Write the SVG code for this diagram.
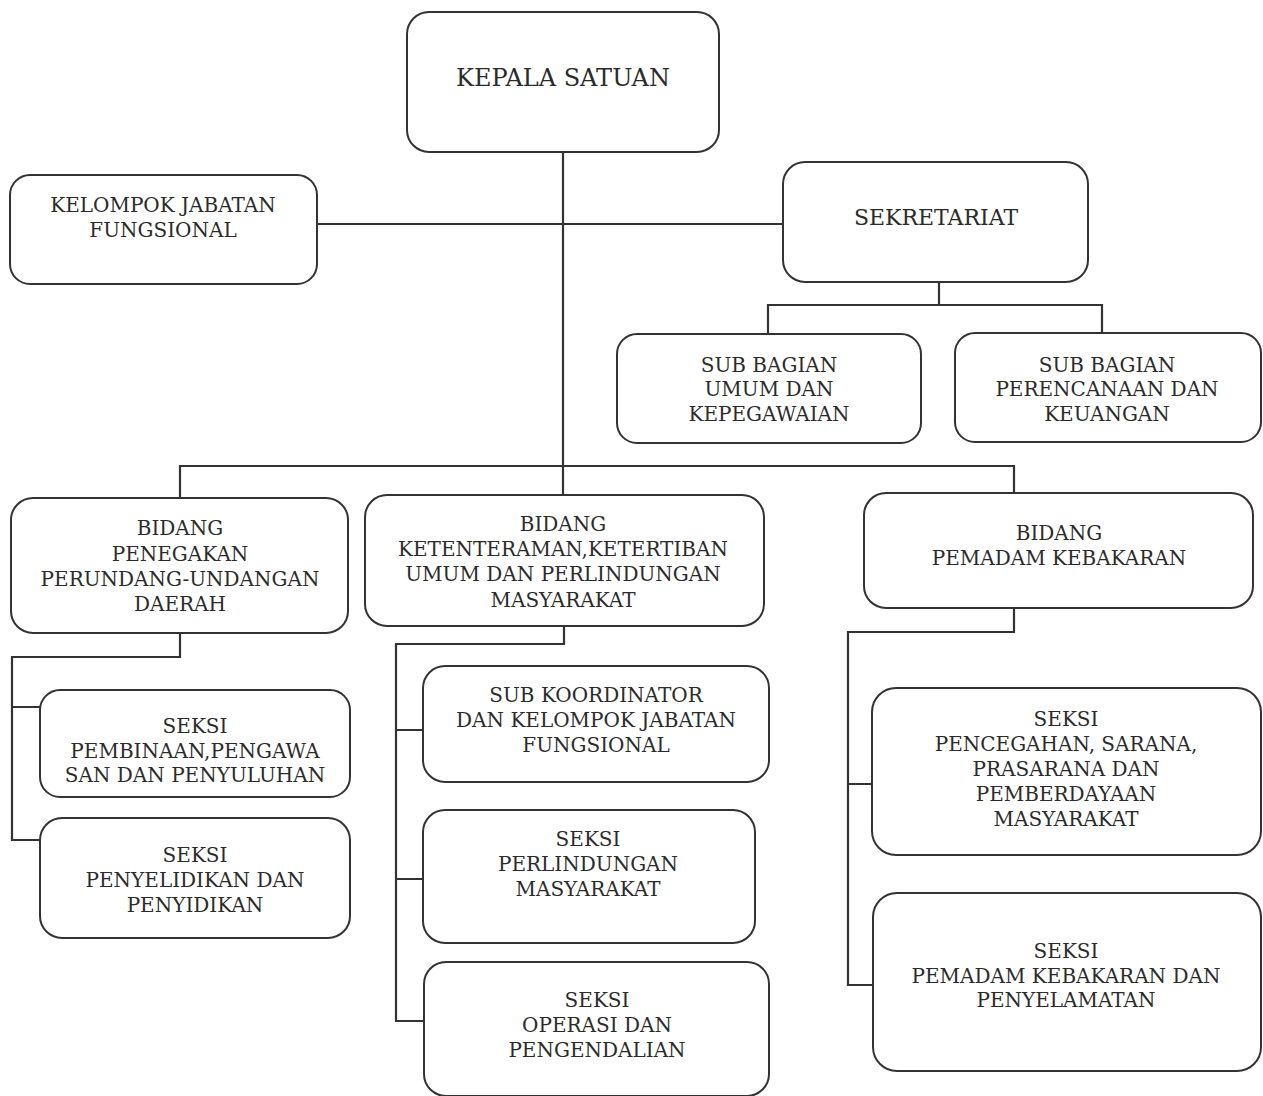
<svg xmlns="http://www.w3.org/2000/svg" width="1263" height="1096" viewBox="0 0 1263 1096">
<style>
.box{fill:#fff;stroke:#333;stroke-width:2}
.ln{fill:none;stroke:#333;stroke-width:2.2;stroke-linecap:square}
text{font-family:"DejaVu Serif","Liberation Serif",serif;font-size:20px;fill:#2b2b2b;text-anchor:middle}
.t24{font-size:24px}
.t22{font-size:22px}
</style>
<rect width="1263" height="1096" fill="#fff"/>
<g id="connectors">
<path class="ln" d="M563 152V495"/>
<path class="ln" d="M317 224H783"/>
<path class="ln" d="M939 282V305M768 305H1102M768 305V334M1102 305V333"/>
<path class="ln" d="M180 466H1014M180 466V498M1014 466V493"/>
<path class="ln" d="M180 633V657H12V840H40M12 707H40"/>
<path class="ln" d="M564 626V644H396V1021H424M396 730H423M396 879H423"/>
<path class="ln" d="M1014 608V632H848V985H873M848 784H872"/>
</g>
<g id="kepala"><rect class="box" x="407" y="12" width="312" height="140" rx="22"/><text class="t24" x="563" y="86">KEPALA SATUAN</text></g>
<g id="kelompok"><rect class="box" x="10" y="175" width="307" height="109" rx="20"/><text x="163" y="212">KELOMPOK JABATAN</text><text x="163" y="237">FUNGSIONAL</text></g>
<g id="sekretariat"><rect class="box" x="783" y="162" width="305" height="120" rx="22"/><text class="t22" x="936" y="225">SEKRETARIAT</text></g>
<g id="subumum"><rect class="box" x="617" y="334" width="304" height="109" rx="20"/><text x="769" y="372">SUB BAGIAN</text><text x="769" y="396">UMUM DAN</text><text x="769" y="421">KEPEGAWAIAN</text></g>
<g id="subrencana"><rect class="box" x="955" y="333" width="306" height="109" rx="20"/><text x="1107" y="372">SUB BAGIAN</text><text x="1107" y="396">PERENCANAAN DAN</text><text x="1107" y="421">KEUANGAN</text></g>
<g id="bidang1"><rect class="box" x="11" y="498" width="337" height="135" rx="22"/><text x="180" y="535">BIDANG</text><text x="180" y="561">PENEGAKAN</text><text x="180" y="586">PERUNDANG-UNDANGAN</text><text x="180" y="611">DAERAH</text></g>
<g id="bidang2"><rect class="box" x="365" y="495" width="399" height="131" rx="22"/><text x="563" y="531">BIDANG</text><text x="563" y="556">KETENTERAMAN,KETERTIBAN</text><text x="563" y="581">UMUM DAN PERLINDUNGAN</text><text x="563" y="607">MASYARAKAT</text></g>
<g id="bidang3"><rect class="box" x="864" y="493" width="389" height="115" rx="22"/><text x="1059" y="540">BIDANG</text><text x="1059" y="565">PEMADAM KEBAKARAN</text></g>
<g id="seksi-pembinaan"><rect class="box" x="40" y="690" width="310" height="107" rx="20"/><text x="195" y="733">SEKSI</text><text x="195" y="758">PEMBINAAN,PENGAWA</text><text x="195" y="782">SAN DAN PENYULUHAN</text></g>
<g id="seksi-penyelidikan"><rect class="box" x="40" y="818" width="310" height="120" rx="22"/><text x="195" y="862">SEKSI</text><text x="195" y="887">PENYELIDIKAN DAN</text><text x="195" y="912">PENYIDIKAN</text></g>
<g id="subkoordinator"><rect class="box" x="423" y="666" width="346" height="116" rx="22"/><text x="596" y="702">SUB KOORDINATOR</text><text x="596" y="727">DAN KELOMPOK JABATAN</text><text x="596" y="752">FUNGSIONAL</text></g>
<g id="seksi-perlindungan"><rect class="box" x="423" y="810" width="332" height="133" rx="22"/><text x="588" y="846">SEKSI</text><text x="588" y="871">PERLINDUNGAN</text><text x="588" y="896">MASYARAKAT</text></g>
<g id="seksi-operasi"><rect class="box" x="424" y="962" width="345" height="134" rx="22"/><text x="597" y="1007">SEKSI</text><text x="597" y="1032">OPERASI DAN</text><text x="597" y="1057">PENGENDALIAN</text></g>
<g id="seksi-pencegahan"><rect class="box" x="872" y="688" width="389" height="167" rx="24"/><text x="1066" y="726">SEKSI</text><text x="1066" y="751">PENCEGAHAN, SARANA,</text><text x="1066" y="776">PRASARANA DAN</text><text x="1066" y="801">PEMBERDAYAAN</text><text x="1066" y="826">MASYARAKAT</text></g>
<g id="seksi-pemadam"><rect class="box" x="873" y="893" width="388" height="178" rx="24"/><text x="1066" y="958">SEKSI</text><text x="1066" y="983">PEMADAM KEBAKARAN DAN</text><text x="1066" y="1007">PENYELAMATAN</text></g>
</svg>
